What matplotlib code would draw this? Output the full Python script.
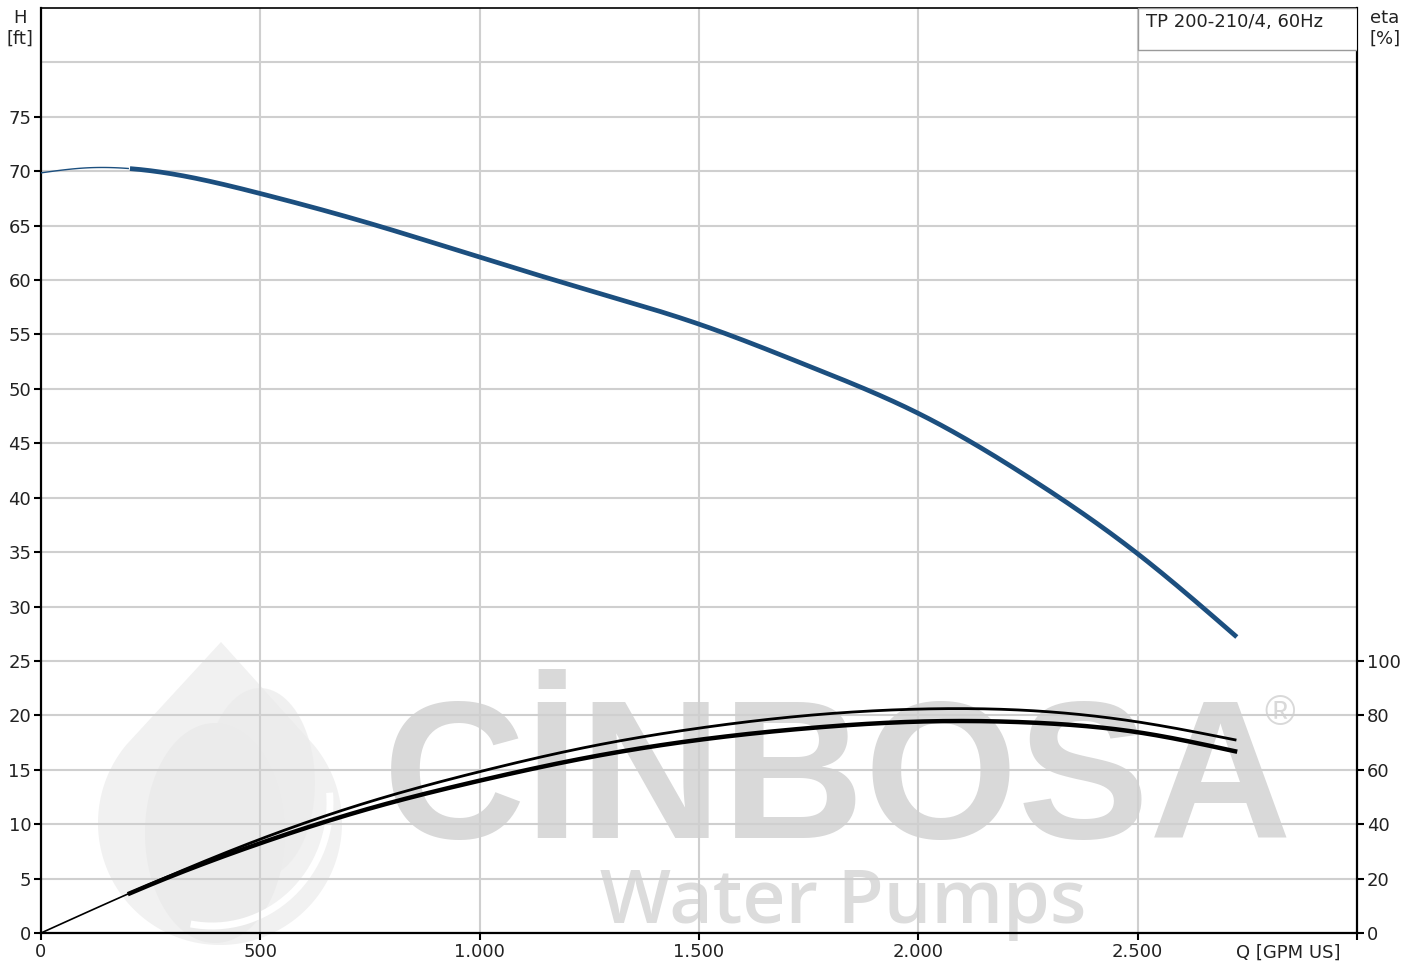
import numpy as np
import matplotlib
matplotlib.use("Agg")
import matplotlib.pyplot as plt
from matplotlib.patches import Rectangle, Polygon
import matplotlib.patches as mpatches

plt.rcParams['font.family'] = ['DejaVu Sans']

# ---- data ----
q_head = [0, 100, 200, 500, 750, 1000, 1250, 1500, 1750, 2000, 2250, 2500, 2726]
head_ft = [69.85, 70.3, 70.25, 67.95, 65.2, 62.1, 59.05, 55.95, 52.1, 47.75, 41.9, 34.85, 27.2]

q_eta = [0, 250, 500, 750, 1000, 1250, 1500, 1750, 2000, 2250, 2500, 2722]
eta_upper = [0, 18.0, 34.5, 48.3, 59.3, 68.5, 75.3, 80.0, 82.3, 81.8, 77.6, 71.0]
eta_lower = [0, 17.8, 33.0, 45.8, 56.0, 64.6, 71.0, 75.3, 77.7, 77.4, 73.8, 66.8]

x_ticks = [0, 500, 1000, 1500, 2000, 2500]
x_labels = ["0", "500", "1.000", "1.500", "2.000", "2.500"]
h_ticks = list(range(0, 80, 5))
eta_ticks = [0, 20, 40, 60, 80, 100]
thin_limit = 200  # Q below which curves are drawn thin
title_text = "TP 200-210/4, 60Hz"

W, H = 1423, 969
fig = plt.figure(figsize=(W / 100, H / 100), dpi=100)
fig.patch.set_facecolor('white')

# ---- watermark (pixel coordinates) ----
wm = fig.add_axes([0, 0, 1, 1], zorder=0)
wm.set_xlim(0, W)
wm.set_ylim(H, 0)
wm.axis('off')
cx, cy, r = 220, 823, 122
ang = np.linspace(np.deg2rad(-220), np.deg2rad(40), 200)
drop = [(221, 642)] + [(cx + r * np.cos(a), cy - r * np.sin(a)) for a in ang]
wm.add_patch(Polygon(drop, closed=True, facecolor='#f1f1f1', edgecolor='none'))
wm.add_patch(Polygon([(cx - 5 + 70 * np.cos(a), cy + 10 - 110 * np.sin(a))
                      for a in np.linspace(0, 2 * np.pi, 100)],
                     closed=True, facecolor='#ebebeb', edgecolor='none'))
wm.add_patch(Polygon([(cx + 40 + 55 * np.cos(a), cy - 40 - 95 * np.sin(a))
                      for a in np.linspace(0, 2 * np.pi, 100)],
                     closed=True, facecolor='#ebebeb', edgecolor='none', alpha=0.7))
wm.add_patch(mpatches.Arc((212, 803), 236, 246, theta1=-5, theta2=100,
                          color='white', lw=5))
wm.text(838, 787, "CİNBOSA", fontsize=142, fontweight='bold', color='#d9d9d9',
        ha='center', va='center', family=['Liberation Sans', 'DejaVu Sans'])
wm.text(1280, 714, "®", fontsize=30, color='#d9d9d9', ha='center', va='center',
        family=['Liberation Sans'])
wm.text(843, 904, "Water Pumps", fontsize=54, fontweight='semibold', color='#dcdcdc',
        ha='center', va='center', family=['Open Sans', 'DejaVu Sans'])

# ---- main axes ----
left, right = 41 / W, 1357 / W
bottom, top = (H - 933) / H, (H - 8) / H
ax = fig.add_axes([left, bottom, right - left, top - bottom], zorder=1)
ax.patch.set_alpha(0)
ax.set_xlim(0, 3000)
ax.set_ylim(0, 85)

grid_c = '#cfcfcf'
for v in range(0, 85, 5):
    ax.axhline(v, color=grid_c, lw=1.5, zorder=1)
for v in range(500, 3000, 500):
    ax.axvline(v, color=grid_c, lw=1.5, zorder=1)

lab_size = 13
ax.set_xticks(x_ticks + [3000])
ax.set_xticklabels(x_labels + [""])
ax.set_yticks(h_ticks)
ax.set_yticklabels([str(t) for t in h_ticks])
ax.tick_params(direction='out', length=5, width=1.5, colors='black', labelsize=lab_size,
               labelcolor='#222222', pad=2)
for s in ['left', 'bottom', 'top', 'right']:
    ax.spines[s].set_linewidth(1.6)
    ax.spines[s].set_color('black')
ax.spines['top'].set_linewidth(1.2)


def smooth(x, y, xs):
    """natural cubic spline through the data points"""
    x = np.asarray(x, float)
    y = np.asarray(y, float)
    n = len(x)
    h = np.diff(x)
    al = np.zeros(n)
    for i in range(1, n - 1):
        al[i] = 3 / h[i] * (y[i + 1] - y[i]) - 3 / h[i - 1] * (y[i] - y[i - 1])
    l = np.ones(n); mu = np.zeros(n); z = np.zeros(n)
    for i in range(1, n - 1):
        l[i] = 2 * (x[i + 1] - x[i - 1]) - h[i - 1] * mu[i - 1]
        mu[i] = h[i] / l[i]
        z[i] = (al[i] - h[i - 1] * z[i - 1]) / l[i]
    c = np.zeros(n); b = np.zeros(n - 1); d = np.zeros(n - 1)
    for j in range(n - 2, -1, -1):
        c[j] = z[j] - mu[j] * c[j + 1]
        b[j] = (y[j + 1] - y[j]) / h[j] - h[j] * (c[j + 1] + 2 * c[j]) / 3
        d[j] = (c[j + 1] - c[j]) / (3 * h[j])
    idx = np.clip(np.searchsorted(x, xs) - 1, 0, n - 2)
    dx = xs - x[idx]
    return y[idx] + b[idx] * dx + c[idx] * dx ** 2 + d[idx] * dx ** 3


# head curve
qs = np.linspace(min(q_head), max(q_head), 700)
hs = smooth(q_head, head_ft, qs)
blue = '#1c4f7f'
ax.plot(qs[qs <= thin_limit], hs[qs <= thin_limit], color=blue, lw=1.0, zorder=3)
ax.plot(qs[qs >= thin_limit], hs[qs >= thin_limit], color=blue, lw=3.4, zorder=3,
        solid_capstyle='butt')

# eta curves on twin axis
ax2 = ax.twinx()
ax2.set_ylim(0, 340)
ax2.set_yticks(eta_ticks)
ax2.set_yticklabels([str(t) for t in eta_ticks])
ax2.tick_params(direction='out', length=5, width=1.5, colors='black', labelsize=lab_size,
                labelcolor='#222222', pad=2)
for s in ['left', 'bottom', 'top', 'right']:
    ax2.spines[s].set_visible(False)

qs2 = np.linspace(min(q_eta), max(q_eta), 700)
eu = smooth(q_eta, eta_upper, qs2)
el = smooth(q_eta, eta_lower, qs2)
m2 = qs2 <= thin_limit
ax2.plot(qs2[m2], eu[m2], color='black', lw=1.2, zorder=3)
ax2.plot(qs2[~m2], eu[~m2], color='black', lw=2.0, zorder=3)
ax2.plot(qs2[~m2], el[~m2], color='black', lw=3.2, zorder=3)

# axis captions
cap = dict(fontsize=lab_size, color='#222222', ha='center', va='center')
fig.text(20 / W, 1 - 18 / H, "H", **cap)
fig.text(20 / W, 1 - 39 / H, "[ft]", **cap)
fig.text(1385 / W, 1 - 18 / H, "eta", **cap)
fig.text(1385 / W, 1 - 39 / H, "[%]", **cap)
fig.text(1340 / W, 1 - 953 / H, "Q [GPM US]", ha='right', va='center',
         fontsize=lab_size, color='#222222')

# legend box
bx0 = (1138 - 41) / (1357 - 41)
by0 = (933 - 50) / (933 - 8)
ax.add_patch(Rectangle((bx0, by0), 1 - bx0, 1 - by0, transform=ax.transAxes,
                       facecolor='white', edgecolor='#9a9a9a', lw=1.0, zorder=4))
ax.text(bx0 + 0.006, 1 - 14 / 925, title_text, transform=ax.transAxes,
        ha='left', va='center', fontsize=lab_size, color='#222222', zorder=5)

fig.savefig("out.png", dpi=100, facecolor='white')
